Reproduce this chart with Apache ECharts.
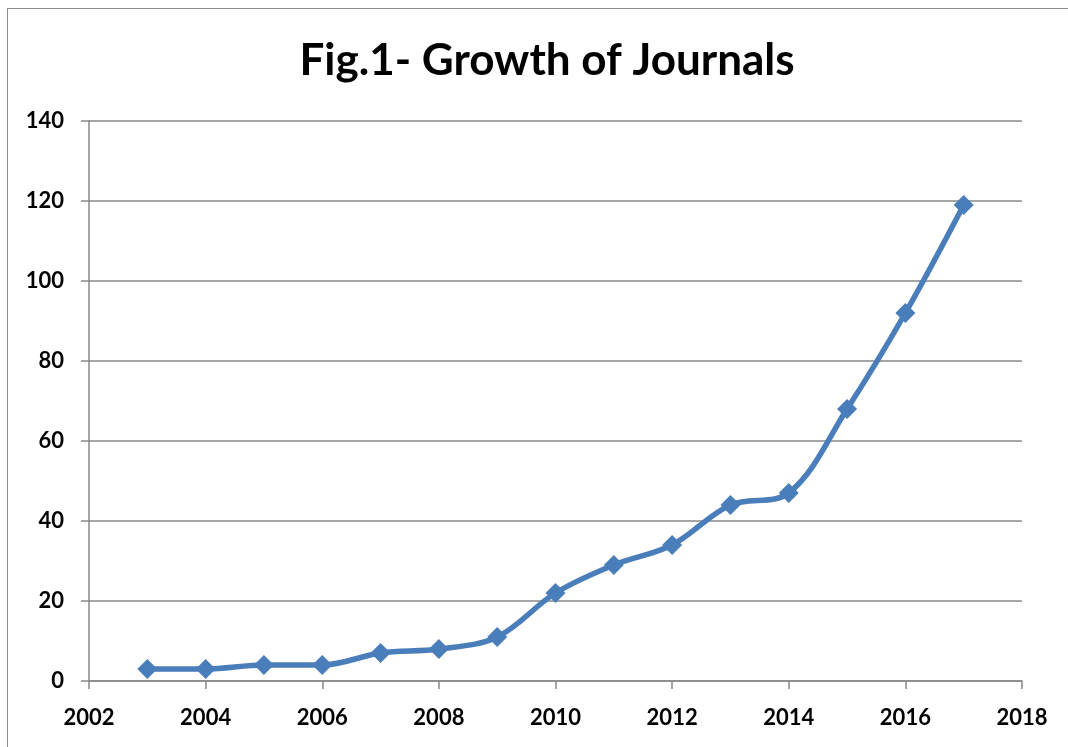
<!DOCTYPE html>
<html><head><meta charset="utf-8">
<script src="https://cdn.jsdelivr.net/npm/echarts@6/dist/echarts.min.js"></script>
<style>
html,body{margin:0;padding:0;background:#fff;overflow:hidden;}
#frame{position:absolute;left:7px;top:8px;width:1200px;height:900px;border:1.5px solid #8c8c8c;box-sizing:border-box;}
#c{position:absolute;left:0;top:0;width:1068px;height:747px;}
</style></head>
<body>
<div id="frame"></div>
<div id="c"></div>
<script>
const years = [2003,2004,2005,2006,2007,2008,2009,2010,2011,2012,2013,2014,2015,2016,2017];
const journals = [3,3,4,4,7,8,11,22,29,34,44,47,68,92,119];
const titleText = 'Fig.1- Growth of Journals';

const chart = echarts.init(document.getElementById('c'));
const font = 'Lato, "Open Sans", sans-serif';
chart.setOption({
  animation:false,
  title:{text:titleText,left:542,textAlign:'center',top:34,textStyle:{fontFamily:font,fontSize:44,fontWeight:'bold',color:'#000'}},
  grid:{left:89,right:46,top:121,bottom:66},
  xAxis:{type:'value',min:2002,max:2018,interval:2,
    axisLine:{lineStyle:{color:'#888',width:1.5}},
    axisTick:{show:true,length:8,lineStyle:{color:'#888',width:1.5}},
    axisLabel:{fontFamily:font,fontSize:22,fontWeight:'bold',color:'#000',margin:26,formatter:v=>String(v)},
    splitLine:{show:false}},
  yAxis:{type:'value',min:0,max:140,interval:20,
    axisLine:{show:true,lineStyle:{color:'#888',width:1.5}},
    axisTick:{show:true,length:8,lineStyle:{color:'#888',width:1.5}},
    axisLabel:{fontFamily:font,fontSize:22,fontWeight:'bold',color:'#000',margin:25},
    splitLine:{show:true,lineStyle:{color:'#888',width:1.5}}},
  series:[{type:'line',data:years.map((y,i)=>[y,journals[i]]),smooth:0.35,
    symbol:'diamond',symbolSize:20,
    lineStyle:{color:'#4a7ebb',width:5.5},
    itemStyle:{color:'#4a7ebb'}}]
});
</script>
</body></html>
